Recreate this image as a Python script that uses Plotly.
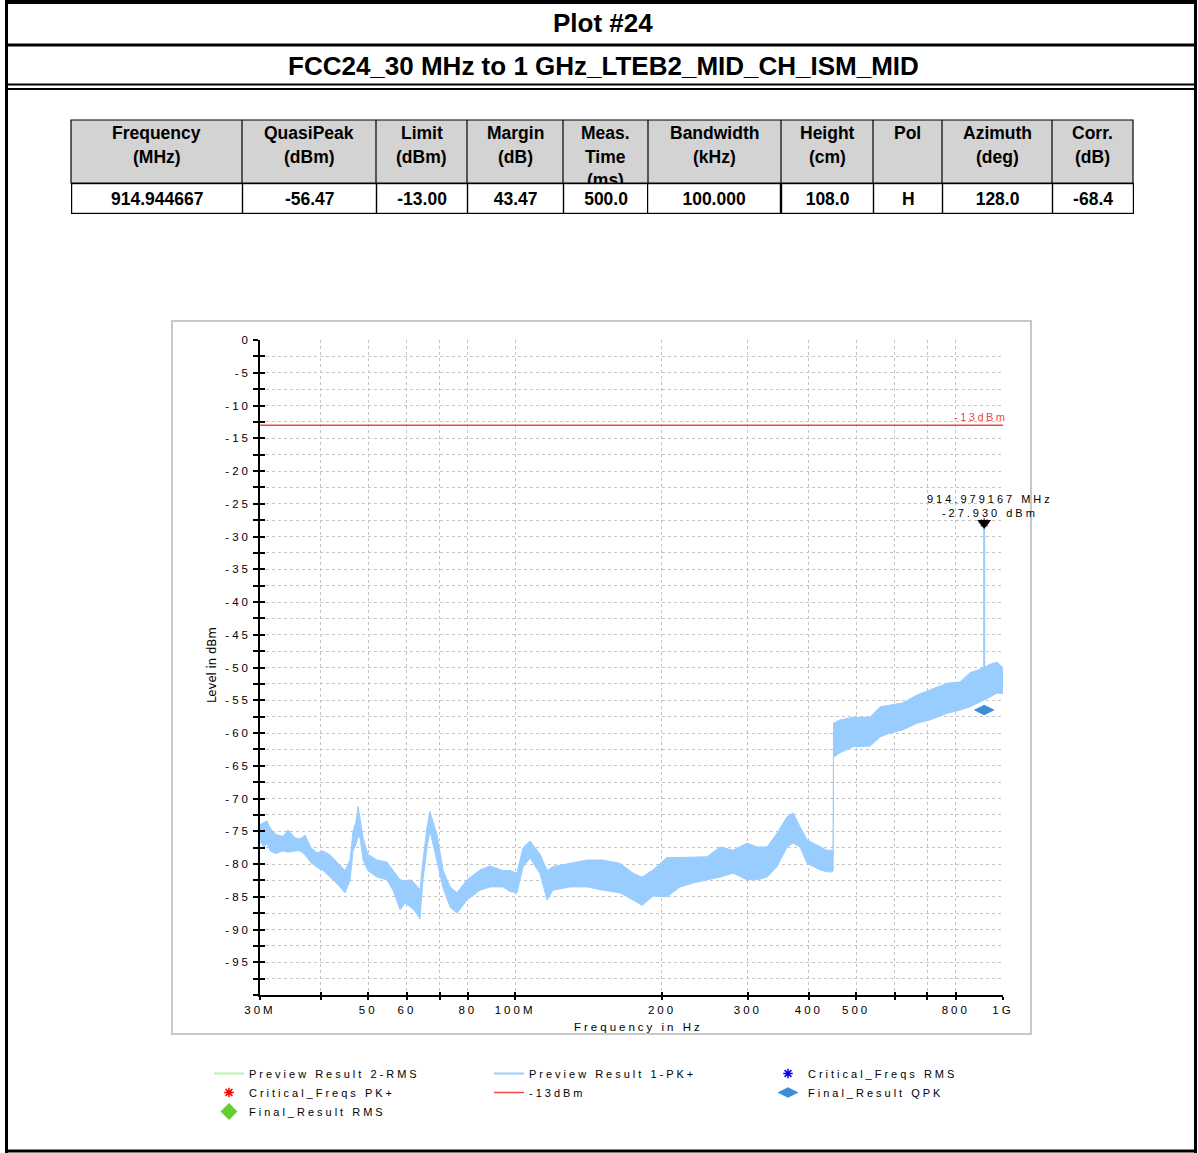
import math
import plotly.graph_objects as go

W, H = 1198, 1153

# ---------------- data ----------------
FREQ_MHZ = [30.0, 30.6, 31.0, 31.45, 32.35, 33.44, 34.24, 35.39, 36.23, 37.1,
            38.16, 39.26, 40.39, 41.74, 43.15, 44.81, 45.88, 46.54, 47.2, 47.65,
            48.1, 48.79, 49.9, 52.1, 54.6, 56.2, 58.1, 59.5, 60.9, 62.35,
            63.8, 64.75, 66.0, 66.9, 67.9, 69.2, 71.2, 73.6, 76.0, 79.7,
            84.7, 88.8, 94.4, 97.6, 100.9, 103.8, 107.3, 112.5, 116.3, 119.6,
            129.6, 140.4, 151.4, 164.1, 174.5, 182.0, 191.7, 204.8, 217.8, 231.5,
            247.4, 263.0, 279.7, 298.8, 313.2, 328.4, 344.2, 360.9, 371.3, 383.7,
            396.6, 408.0, 421.8, 435.9, 446.3, 448.6, 449.4, 463.5, 492.8, 534.0,
            559.9, 586.9, 623.9, 666.5, 708.7, 767.9, 816.5, 856.0, 910.2, 940.8,
            972.4, 1000.0]
PK_MAX_DBM = [-74.0, -73.6, -73.4, -74.5, -75.5, -75.8, -74.8, -76.0, -76.2, -75.6,
              -77.5, -78.3, -78.0, -78.6, -79.8, -81.0, -79.4, -75.0, -73.5, -71.2,
              -73.0, -76.0, -78.5, -79.4, -79.7, -81.0, -82.4, -82.6, -82.4, -83.0,
              -84.0, -79.4, -74.3, -72.0, -73.5, -75.6, -81.0, -83.5, -84.4, -82.4,
              -80.9, -80.3, -81.0, -81.0, -81.4, -77.5, -76.5, -78.5, -81.0, -80.4,
              -79.9, -79.4, -79.4, -79.9, -81.4, -82.0, -80.9, -79.0, -79.0, -78.9,
              -78.9, -77.4, -77.9, -76.8, -77.4, -77.4, -75.3, -72.8, -72.2, -74.3,
              -76.3, -76.8, -77.4, -77.9, -77.9, -78.5, -58.5, -58.0, -57.6, -57.6,
              -56.0, -55.7, -55.4, -54.2, -53.4, -52.4, -52.2, -50.8, -50.1, -49.5,
              -49.2, -50.0]
PK_MIN_DBM = [-76.5, -77.5, -76.8, -78.0, -78.4, -78.0, -78.2, -78.0, -78.0, -78.6,
              -79.8, -80.5, -81.0, -82.0, -83.0, -84.4, -82.5, -78.0, -77.0, -75.8,
              -76.0, -79.4, -81.0, -82.0, -82.4, -84.0, -87.0, -86.0, -86.5, -87.2,
              -88.4, -82.4, -77.4, -75.0, -77.0, -79.4, -83.7, -86.6, -87.5, -85.5,
              -84.0, -83.5, -83.5, -84.2, -84.4, -80.5, -79.1, -81.5, -85.5, -84.0,
              -83.5, -83.5, -84.0, -84.4, -85.5, -86.3, -84.9, -85.0, -83.5, -82.9,
              -82.4, -82.0, -81.4, -82.4, -82.4, -82.0, -80.4, -77.4, -76.8, -77.4,
              -79.9, -80.4, -80.9, -81.2, -81.2, -81.0, -63.7, -63.0, -62.1, -62.0,
              -60.6, -60.0, -59.5, -58.5, -58.0, -57.0, -56.5, -56.0, -55.0, -54.5,
              -53.9, -54.0]

PEAK_FREQ_MHZ = 914.979167
PEAK_LEVEL_DBM = -27.930
SPIKE_BASE_DBM = -50.5
QPK_FREQ_MHZ = 914.944667
QPK_LEVEL_DBM = -56.47
LIMIT_DBM = -13.0

X_TICK_MHZ = [30, 40, 50, 60, 70, 80, 100, 200, 300, 400, 500, 600, 700, 800, 1000]
X_TICK_TEXT = ["30M", "", "50", "60", "", "80", "100M", "200", "300", "400", "500", "", "", "800", "1G"]
Y_TICK_VALS = [-2.5 * i for i in range(41)]
Y_TICK_TEXT = [str(int(v)) if (i % 2 == 0 and v > -100) else "" for i, v in enumerate(Y_TICK_VALS)]

TABLE_HEADER = [["Frequency", "(MHz)"], ["QuasiPeak", "(dBm)"], ["Limit", "(dBm)"],
                ["Margin", "(dB)"], ["Meas.", "Time", "(ms)"], ["Bandwidth", "(kHz)"],
                ["Height", "(cm)"], ["Pol"], ["Azimuth", "(deg)"], ["Corr.", "(dB)"]]
TABLE_VALUES = ["914.944667", "-56.47", "-13.00", "43.47", "500.0", "100.000",
                "108.0", "H", "128.0", "-68.4"]

TITLE_1 = "Plot #24"
TITLE_2 = "FCC24_30 MHz to 1 GHz_LTEB2_MID_CH_ISM_MID"
X_TITLE = "Frequency in Hz"
Y_TITLE = "Level in dBm"

# ---------------- helpers (layout only) ----------------
def px(x):
    return x / W


def py(y):
    return 1 - y / H


def sp(t, s=3):
    return f'<span style="letter-spacing:{s}px">{t}</span>'


SANS = "Liberation Sans, Arial, sans-serif"
NARROW = "Liberation Sans Narrow, Arial Narrow, DejaVu Sans Condensed, sans-serif"
PK_BLUE = "#99ccff"
TXT = "#000"

hz = lambda arr: [f * 1e6 for f in arr]

fig = go.Figure()

# band of the PK+ preview trace
fig.add_trace(go.Scatter(
    x=hz(FREQ_MHZ) + hz(FREQ_MHZ[::-1]),
    y=PK_MAX_DBM + PK_MIN_DBM[::-1],
    mode="lines", fill="toself", fillcolor=PK_BLUE,
    line=dict(color=PK_BLUE, width=1), showlegend=False,
    hoverinfo="skip"))

# column 1 of the legend
fig.add_trace(go.Scatter(x=[None], y=[None], mode="lines",
                         line=dict(color="#b8f0a8", width=2),
                         name=sp("Preview Result 2-RMS"), legend="legend"))
fig.add_trace(go.Scatter(x=hz([PEAK_FREQ_MHZ]), y=[PEAK_LEVEL_DBM], mode="markers",
                         marker=dict(symbol="asterisk-open", size=8, color="#ff0000",
                                     line=dict(color="#ff0000", width=1.5)),
                         name=sp("Critical_Freqs PK+"), legend="legend"))
fig.add_trace(go.Scatter(x=[None], y=[None], mode="markers",
                         marker=dict(symbol="diamond", size=13, color="#66cc33"),
                         name=sp("Final_Result RMS"), legend="legend"))

# column 2
fig.add_trace(go.Scatter(x=hz([PEAK_FREQ_MHZ, PEAK_FREQ_MHZ]),
                         y=[SPIKE_BASE_DBM, PEAK_LEVEL_DBM], mode="lines",
                         line=dict(color=PK_BLUE, width=2),
                         name=sp("Preview Result 1-PK+"), legend="legend2"))
fig.add_trace(go.Scatter(x=hz([X_TICK_MHZ[0], X_TICK_MHZ[-1]]), y=[LIMIT_DBM, LIMIT_DBM],
                         mode="lines", line=dict(color="#f04848", width=1.5),
                         xaxis="x2", yaxis="y2", name=sp("-13dBm"), legend="legend2"))

# column 3
fig.add_trace(go.Scatter(x=[None], y=[None], mode="markers",
                         marker=dict(symbol="asterisk-open", size=8, color="#0000ff",
                                     line=dict(color="#0000ff", width=1.5)),
                         name=sp("Critical_Freqs RMS"), legend="legend3"))
fig.add_trace(go.Scatter(x=hz([QPK_FREQ_MHZ]), y=[QPK_LEVEL_DBM], mode="markers",
                         marker=dict(symbol="diamond-wide", size=15, color="#3a8fd8"),
                         name=sp("Final_Result QPK"), legend="legend3"))

# peak marker (drawn on top of the red asterisk)
fig.add_trace(go.Scatter(x=hz([PEAK_FREQ_MHZ]), y=[PEAK_LEVEL_DBM], mode="markers",
                         marker=dict(symbol="triangle-down", size=12, color="black"),
                         showlegend=False))

xr = [math.log10(X_TICK_MHZ[0] * 1e6), math.log10(X_TICK_MHZ[-1] * 1e6)]
yr = [-100, 0]
xdom = [px(260), px(1003)]
ydom = [py(995), py(340)]
tickfont = dict(family=SANS, size=11.5, color=TXT)
legfont = dict(family=SANS, size=11, color=TXT)


def legend_at(x_text, y_top):
    return dict(orientation="v", x=px(x_text - 40), y=py(y_top), xanchor="left",
                yanchor="top", traceorder="normal", font=legfont,
                bgcolor="rgba(0,0,0,0)", borderwidth=0)


fig.update_layout(
    width=W, height=H, margin=dict(l=0, r=0, t=0, b=0, autoexpand=False),
    paper_bgcolor="white", plot_bgcolor="white",
    font=dict(family=SANS, size=11, color=TXT),
    xaxis=dict(type="log", range=xr, domain=xdom, anchor="y", automargin=False,
               tickvals=hz(X_TICK_MHZ), ticktext=[sp(t) for t in X_TICK_TEXT],
               ticks="outside", ticklen=3, tickwidth=1.5, tickcolor="black",
               showline=True, linecolor="black", linewidth=1.5,
               showgrid=True, gridcolor="#c4c4c4", griddash="dot", gridwidth=1,
               zeroline=False, tickfont=tickfont),
    yaxis=dict(range=yr, domain=ydom, anchor="x", automargin=False,
               tickvals=Y_TICK_VALS, ticktext=[sp(t) for t in Y_TICK_TEXT],
               ticks="outside", ticklen=5, tickwidth=1.5, tickcolor="black",
               showline=True, linecolor="black", linewidth=1.5,
               showgrid=True, gridcolor="#c4c4c4", griddash="dot", gridwidth=1,
               zeroline=False, tickfont=tickfont),
    xaxis2=dict(type="log", range=xr, domain=xdom, anchor="y", overlaying="x",
                automargin=False,
                tickvals=hz(X_TICK_MHZ), ticks="inside", ticklen=3, tickwidth=1.5,
                tickcolor="black", showticklabels=False, showgrid=False,
                showline=False, zeroline=False),
    yaxis2=dict(range=yr, domain=ydom, anchor="x", overlaying="y", automargin=False,
                tickvals=Y_TICK_VALS, ticks="inside", ticklen=5, tickwidth=1.5,
                tickcolor="black", showticklabels=False, showgrid=False,
                showline=False, zeroline=False),
    legend=legend_at(249, 1059),
    legend2=legend_at(529, 1059),
    legend3=legend_at(808, 1059),
    showlegend=True,
)

shapes = []
ann = []


def hline(y, w, x0=5, x1=1197):
    shapes.append(dict(type="line", xref="paper", yref="paper", x0=px(x0), x1=px(x1),
                       y0=py(y), y1=py(y), line=dict(color="black", width=w)))


def vline(x, w, y0=0, y1=1153):
    shapes.append(dict(type="line", xref="paper", yref="paper", x0=px(x), x1=px(x),
                       y0=py(y0), y1=py(y1), line=dict(color="black", width=w)))

hline(2, 4)
hline(45, 3)
hline(84.5, 2)
hline(89, 2)
hline(1151, 3)
vline(6.5, 3)
vline(1195.5, 3)

ann.append(dict(text=f"<b>{TITLE_1}</b>", x=px(603), y=py(23), xref="paper", yref="paper",
                showarrow=False, font=dict(family=SANS, size=26, color="black"),
                xanchor="center", yanchor="middle"))
ann.append(dict(text=f"<b>{TITLE_2}</b>", x=px(603), y=py(66), xref="paper", yref="paper",
                showarrow=False, font=dict(family=SANS, size=26, color="black"),
                xanchor="center", yanchor="middle"))

# chart frame
shapes.append(dict(type="rect", xref="paper", yref="paper", x0=px(172), x1=px(1031),
                   y0=py(1034), y1=py(321), line=dict(color="#c8c8c8", width=2),
                   layer="below"))

# axis titles
ann.append(dict(text=sp(X_TITLE), x=px(638), y=py(1027), xref="paper", yref="paper",
                showarrow=False, xanchor="center", yanchor="middle",
                font=dict(family=SANS, size=11.5, color=TXT)))
ann.append(dict(text=Y_TITLE, x=px(211), y=py(665), xref="paper", yref="paper",
                showarrow=False, xanchor="center", yanchor="middle", textangle=-90,
                font=dict(family=NARROW, size=13, color=TXT)))

# table
COL_EDGES = [71, 242, 376, 467, 563, 648, 781, 873, 942, 1052, 1133]
T_TOP, T_MID, T_BOT = 120, 183, 213
shapes.append(dict(type="rect", xref="paper", yref="paper", x0=px(COL_EDGES[0]),
                   x1=px(COL_EDGES[-1]), y0=py(T_MID), y1=py(T_TOP),
                   fillcolor="#d3d3d3", line=dict(color="black", width=1.2)))
for e in COL_EDGES[1:-1]:
    shapes.append(dict(type="line", xref="paper", yref="paper", x0=px(e), x1=px(e),
                       y0=py(T_MID), y1=py(T_TOP), line=dict(color="black", width=1.2)))

HEADER_LINE_Y = [133, 157, 180]
for i, lines in enumerate(TABLE_HEADER):
    cx = (COL_EDGES[i] + COL_EDGES[i + 1]) / 2
    for j, t in enumerate(lines):
        ann.append(dict(text=f"<b>{t}</b>", x=px(cx), y=py(HEADER_LINE_Y[j]),
                        xref="paper", yref="paper", showarrow=False,
                        font=dict(family=SANS, size=17.5, color="black"),
                        xanchor="center", yanchor="middle"))
for i, v in enumerate(TABLE_VALUES):
    cx = (COL_EDGES[i] + COL_EDGES[i + 1]) / 2
    ann.append(dict(text=f"<b>{v}</b>", x=px(cx), y=py((T_MID + T_BOT) / 2),
                    xref="paper", yref="paper", showarrow=False,
                    font=dict(family=SANS, size=17.5, color="black"),
                    xanchor="center", yanchor="middle",
                    width=COL_EDGES[i + 1] - COL_EDGES[i] - 1,
                    height=T_BOT - T_MID - 1, borderpad=0,
                    bgcolor="white", bordercolor="black", borderwidth=1.2))

# chart annotations
ann.append(dict(text=sp("-13dBm", 2.5), x=math.log10(X_TICK_MHZ[-1] * 1e6), y=LIMIT_DBM,
                xref="x", yref="y", showarrow=False, xanchor="right", yanchor="bottom",
                xshift=7, yshift=0, font=dict(family=SANS, size=11, color="#f04848")))
ann.append(dict(text=sp(f"{PEAK_FREQ_MHZ:.6f} MHz") + "<br>" + sp(f"{PEAK_LEVEL_DBM:.3f} dBm"),
                x=math.log10(PEAK_FREQ_MHZ * 1e6), y=PEAK_LEVEL_DBM,
                xref="x", yref="y", showarrow=False, xanchor="center", yanchor="bottom",
                xshift=6, yshift=2, align="center",
                font=dict(family=SANS, size=11, color=TXT)))

fig.update_layout(shapes=shapes, annotations=ann)

fig.write_html("out.html", config={"displayModeBar": False},
               post_script="document.body.style.margin='0px';")
